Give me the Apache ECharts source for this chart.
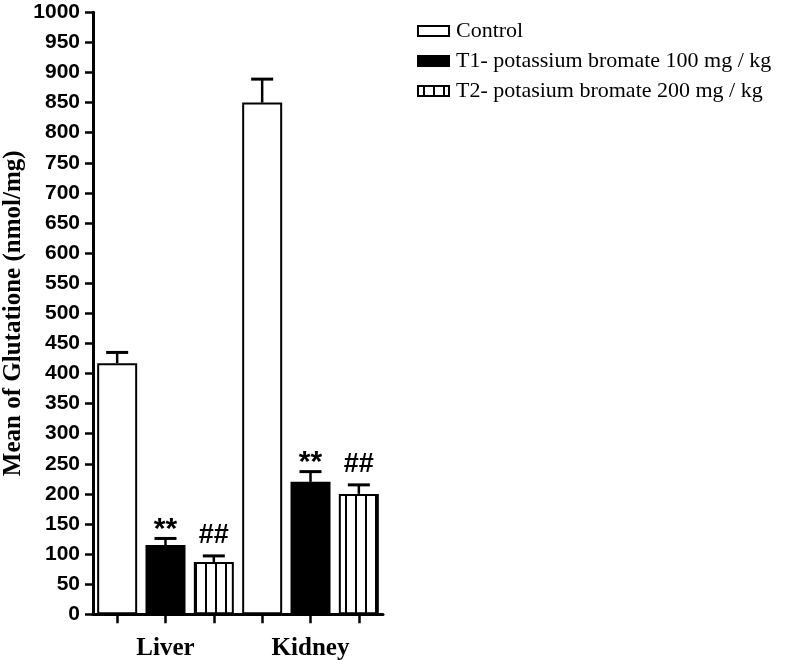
<!DOCTYPE html>
<html>
<head>
<meta charset="utf-8">
<script src="https://cdn.jsdelivr.net/npm/echarts@6/dist/echarts.min.js"></script>
<style>html,body{margin:0;padding:0;background:#fff}#main{width:787px;height:664px}</style>
</head>
<body>
<div id="main"></div>
<script>
// ---- data ----
var categories = ['Liver', 'Kidney'];
var seriesNames = ['Control', 'T1- potassium bromate 100 mg / kg', 'T2- potasium bromate 200 mg / kg'];
var controlMean = [417, 850];
var controlErr = [435, 889];
var t1Mean = [115, 220];
var t1Err = [126, 237];
var t2Mean = [87, 200];
var t2Err = [97, 215];
var t1Marks = ['**', '**'];
var t2Marks = ['##', '##'];
var yMin = 0, yMax = 1000, yStep = 50;

// ---- build ----
var pc = document.createElement('canvas');
pc.width = 10; pc.height = 10;
var g = pc.getContext('2d');
g.fillStyle = '#fff'; g.fillRect(0, 0, 10, 10);
g.fillStyle = '#000'; g.fillRect(0, 0, 2, 10);
var stripe = { image: pc, repeat: 'repeat', x: 5 };

var errData = [];
var slots = [];
for (var i = 0; i < categories.length; i++) {
  errData.push([i * 3 + 0, controlMean[i], controlErr[i], '']);
  errData.push([i * 3 + 1, t1Mean[i], t1Err[i], t1Marks[i]]);
  errData.push([i * 3 + 2, t2Mean[i], t2Err[i], t2Marks[i]]);
  slots.push('', '', '');
}

var chart = echarts.init(document.getElementById('main'));
var barCommon = { type: 'bar', barWidth: 40, barGap: '20.83%', xAxisIndex: 0 };
chart.setOption({
  animation: false,
  backgroundColor: '#fff',
  grid: { left: 93, right: 404, top: 12.3, bottom: 49.7, containLabel: false },
  legend: {
    orient: 'vertical', left: 412, top: 15, icon: 'rect',
    itemWidth: 31, itemHeight: 10, itemGap: 8,
    textStyle: { fontFamily: 'Liberation Serif', fontSize: 22, color: '#000', lineHeight: 20, padding: [0, 0, 0, 2] },
    data: seriesNames
  },
  xAxis: [
    {
      type: 'category', data: categories, position: 'bottom',
      axisLine: { lineStyle: { color: '#000', width: 3 } },
      axisTick: { show: false },
      axisLabel: { margin: 22, color: '#000', fontFamily: 'Liberation Serif', fontWeight: 'bold', fontSize: 25 }
    },
    {
      type: 'category', data: slots, position: 'bottom',
      axisLine: { show: false },
      axisTick: { show: true, alignWithLabel: true, length: 9, lineStyle: { color: '#000', width: 2.5 } },
      axisLabel: { show: false }
    }
  ],
  yAxis: {
    type: 'value', min: yMin, max: yMax, interval: yStep,
    splitLine: { show: false },
    axisLine: { show: true, lineStyle: { color: '#000', width: 3 } },
    axisTick: { show: true, length: 8, lineStyle: { color: '#000', width: 2.5 } },
    axisLabel: { margin: 13, color: '#000', fontFamily: 'Liberation Sans', fontWeight: 'bold', fontSize: 21,
      formatter: function (v) { return String(v); } },
    name: 'Mean of Glutatione (nmol/mg)', nameLocation: 'middle', nameGap: 67,
    nameTextStyle: { color: '#000', fontFamily: 'Liberation Serif', fontWeight: 'bold', fontSize: 25 }
  },
  series: [
    Object.assign({}, barCommon, { name: seriesNames[0], data: controlMean,
      itemStyle: { color: '#fff', borderColor: '#000', borderWidth: 2 } }),
    Object.assign({}, barCommon, { name: seriesNames[1], data: t1Mean,
      itemStyle: { color: '#000', borderColor: '#000', borderWidth: 2 } }),
    Object.assign({}, barCommon, { name: seriesNames[2], data: t2Mean,
      itemStyle: { color: stripe, borderColor: '#000', borderWidth: 2 } }),
    {
      type: 'custom', xAxisIndex: 1, yAxisIndex: 0, z: 5, silent: true,
      data: errData,
      renderItem: function (params, api) {
        var x = api.value(0);
        var p0 = api.coord([x, api.value(1)]);
        var p1 = api.coord([x, api.value(2)]);
        var mark = errData[params.dataIndex][3];
        var children = [
          { type: 'line', shape: { x1: p0[0], y1: p0[1], x2: p1[0], y2: p1[1] }, style: { stroke: '#000', lineWidth: 2.5 } },
          { type: 'line', shape: { x1: p1[0] - 11, y1: p1[1], x2: p1[0] + 11, y2: p1[1] }, style: { stroke: '#000', lineWidth: 3 } }
        ];
        if (mark) {
          var isStar = mark === '**';
          children.push({ type: 'text', style: {
            text: mark, x: p1[0], y: p1[1] - (isStar ? -6 : 7),
            align: 'center', verticalAlign: 'bottom',
            font: 'bold ' + (isStar ? 30 : 27) + 'px "Liberation Sans"', fill: '#000'
          } });
        }
        return { type: 'group', children: children };
      }
    }
  ]
});
</script>
</body>
</html>
